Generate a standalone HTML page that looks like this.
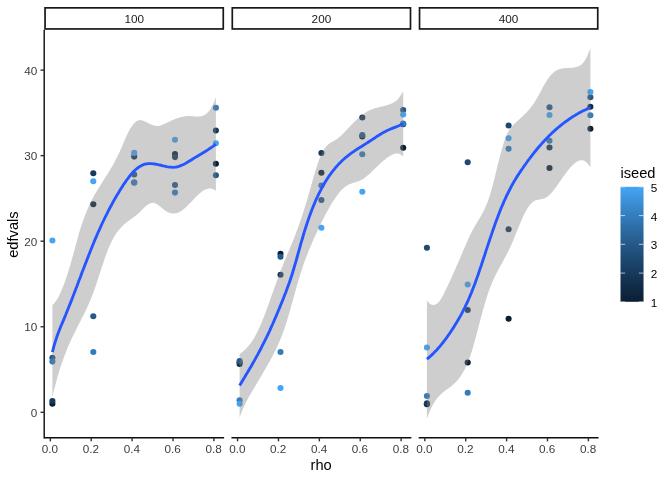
<!DOCTYPE html>
<html><head><meta charset="utf-8"><title>edfvals vs rho</title>
<style>html,body{margin:0;padding:0;background:#fff;}svg{display:block;}</style></head>
<body>
<svg width="672" height="480" viewBox="0 0 672 480" font-family="'Liberation Sans', Arial, Helvetica, sans-serif">
<rect width="672" height="480" fill="#fff"/>
<g><circle cx="52.4" cy="403.7" r="3.05" fill="#0B1E33"/><circle cx="52.4" cy="401.0" r="3.05" fill="#17395B"/><circle cx="52.4" cy="357.8" r="3.05" fill="#255989"/><circle cx="52.4" cy="361.6" r="3.05" fill="#347DBC"/><circle cx="52.4" cy="240.5" r="3.05" fill="#45A5F5"/><circle cx="93.3" cy="204.2" r="3.05" fill="#0B1E33"/><circle cx="93.3" cy="173.3" r="3.05" fill="#17395B"/><circle cx="93.3" cy="316.3" r="3.05" fill="#255989"/><circle cx="93.3" cy="352.0" r="3.05" fill="#347DBC"/><circle cx="93.3" cy="181.2" r="3.05" fill="#45A5F5"/><circle cx="134.2" cy="182.5" r="3.05" fill="#0B1E33"/><circle cx="134.2" cy="156.6" r="3.05" fill="#17395B"/><circle cx="134.2" cy="174.5" r="3.05" fill="#255989"/><circle cx="134.2" cy="182.5" r="3.05" fill="#347DBC"/><circle cx="134.2" cy="152.9" r="3.05" fill="#45A5F5"/><circle cx="175.0" cy="154.1" r="3.05" fill="#0B1E33"/><circle cx="175.0" cy="157.1" r="3.05" fill="#17395B"/><circle cx="175.0" cy="185.0" r="3.05" fill="#255989"/><circle cx="175.0" cy="192.6" r="3.05" fill="#347DBC"/><circle cx="175.0" cy="139.7" r="3.05" fill="#45A5F5"/><circle cx="215.9" cy="163.7" r="3.05" fill="#0B1E33"/><circle cx="215.9" cy="130.5" r="3.05" fill="#17395B"/><circle cx="215.9" cy="175.3" r="3.05" fill="#255989"/><circle cx="215.9" cy="107.8" r="3.05" fill="#347DBC"/><circle cx="215.9" cy="143.3" r="3.05" fill="#45A5F5"/></g>
<path d="M52.4 304.9L54.0 303.5L55.7 301.5L57.3 299.0L59.0 296.0L60.6 292.5L62.3 288.6L63.9 284.4L65.6 279.7L67.2 274.8L68.9 269.5L70.6 263.9L72.2 258.1L73.9 252.0L75.5 246.0L77.2 239.9L78.8 234.1L80.5 228.6L82.1 223.5L83.8 218.7L85.4 214.3L87.1 210.2L88.7 206.4L90.4 202.9L92.0 199.6L93.7 196.5L95.3 193.5L97.0 190.7L98.6 188.0L100.3 185.4L101.9 182.8L103.6 180.2L105.2 177.6L106.9 175.0L108.5 172.4L110.2 169.6L111.9 166.8L113.5 163.9L115.2 160.8L116.8 157.6L118.5 154.2L120.1 150.7L121.8 146.9L123.4 143.0L125.1 139.2L126.7 135.5L128.4 132.1L130.0 129.0L131.7 126.4L133.3 124.2L135.0 122.4L136.6 121.1L138.3 120.4L139.9 120.1L141.6 120.3L143.2 120.7L144.9 121.4L146.5 122.2L148.2 123.1L149.8 123.9L151.5 124.6L153.2 125.3L154.8 125.8L156.5 126.1L158.1 126.1L159.8 125.8L161.4 125.2L163.1 124.5L164.7 123.8L166.4 123.0L168.0 122.2L169.7 121.4L171.3 120.6L173.0 119.9L174.6 119.2L176.3 118.6L177.9 118.0L179.6 117.5L181.2 117.0L182.9 116.7L184.5 116.4L186.2 116.1L187.8 116.0L189.5 116.0L191.2 116.1L192.8 116.2L194.5 116.4L196.1 116.5L197.8 116.6L199.4 116.6L201.1 116.3L202.7 115.8L204.4 115.1L206.0 114.0L207.7 112.6L209.3 110.7L211.0 108.2L212.6 105.2L214.3 101.5L215.9 97.3L215.9 190.8L214.3 189.8L212.6 189.0L211.0 188.6L209.3 188.5L207.7 188.8L206.0 189.3L204.4 190.1L202.7 191.1L201.1 192.3L199.4 193.7L197.8 195.2L196.1 196.8L194.5 198.5L192.8 200.2L191.2 201.9L189.5 203.6L187.8 205.3L186.2 206.9L184.5 208.4L182.9 209.7L181.2 210.9L179.6 211.9L177.9 212.7L176.3 213.2L174.6 213.5L173.0 213.5L171.3 213.3L169.7 212.9L168.0 212.2L166.4 211.3L164.7 210.2L163.1 208.9L161.4 207.6L159.8 206.2L158.1 204.9L156.5 203.9L154.8 203.1L153.2 202.8L151.5 202.9L149.8 203.5L148.2 204.4L146.5 205.6L144.9 207.0L143.2 208.6L141.6 210.3L139.9 211.9L138.3 213.5L136.6 214.9L135.0 216.2L133.3 217.5L131.7 218.7L130.0 219.9L128.4 221.1L126.7 222.3L125.1 223.6L123.4 225.1L121.8 226.7L120.1 228.4L118.5 230.4L116.8 232.6L115.2 235.0L113.5 237.8L111.9 240.9L110.2 244.4L108.5 248.2L106.9 252.5L105.2 257.0L103.6 261.9L101.9 266.9L100.3 271.9L98.6 277.0L97.0 282.1L95.3 287.0L93.7 291.7L92.0 296.1L90.4 300.2L88.7 304.0L87.1 307.7L85.4 311.2L83.8 314.6L82.1 317.8L80.5 321.1L78.8 324.3L77.2 327.5L75.5 330.8L73.9 334.1L72.2 337.5L70.6 341.1L68.9 344.8L67.2 348.7L65.6 352.9L63.9 357.2L62.3 361.9L60.6 366.8L59.0 372.1L57.3 377.7L55.7 383.8L54.0 390.2L52.4 397.1Z" fill="#828282" fill-opacity="0.39"/>
<path d="M52.4 352.2L54.0 345.9L55.7 340.4L57.3 335.5L59.0 331.1L60.6 326.9L62.3 323.0L63.9 319.1L65.6 315.1L67.2 311.0L68.9 306.8L70.6 302.6L72.2 298.4L73.9 294.1L75.5 289.7L77.2 285.4L78.8 281.0L80.5 276.7L82.1 272.3L83.8 268.0L85.4 263.7L87.1 259.4L88.7 255.2L90.4 251.0L92.0 246.9L93.7 242.8L95.3 238.9L97.0 235.0L98.6 231.3L100.3 227.6L101.9 224.0L103.6 220.5L105.2 217.1L106.9 213.8L108.5 210.5L110.2 207.3L111.9 204.3L113.5 201.2L115.2 198.3L116.8 195.5L118.5 192.7L120.1 190.0L121.8 187.4L123.4 184.8L125.1 182.4L126.7 180.0L128.4 177.8L130.0 175.7L131.7 173.7L133.3 171.9L135.0 170.3L136.6 168.8L138.3 167.5L139.9 166.4L141.6 165.5L143.2 164.7L144.9 164.2L146.5 163.9L148.2 163.7L149.8 163.6L151.5 163.6L153.2 163.8L154.8 164.0L156.5 164.3L158.1 164.7L159.8 165.0L161.4 165.4L163.1 165.9L164.7 166.2L166.4 166.6L168.0 166.9L169.7 167.1L171.3 167.2L173.0 167.3L174.6 167.2L176.3 167.0L177.9 166.6L179.6 166.1L181.2 165.4L182.9 164.7L184.5 163.9L186.2 163.0L187.8 162.0L189.5 161.0L191.2 160.0L192.8 159.0L194.5 157.9L196.1 156.9L197.8 155.9L199.4 155.0L201.1 154.0L202.7 153.0L204.4 152.0L206.0 151.0L207.7 149.9L209.3 148.8L211.0 147.7L212.6 146.6L214.3 145.4L215.9 144.2" fill="none" stroke="#2555FF" stroke-width="2.85" stroke-linejoin="round"/>
<g><circle cx="239.6" cy="364.0" r="3.05" fill="#0B1E33"/><circle cx="239.6" cy="362.5" r="3.05" fill="#17395B"/><circle cx="239.6" cy="361.0" r="3.05" fill="#255989"/><circle cx="239.6" cy="400.3" r="3.05" fill="#347DBC"/><circle cx="239.6" cy="403.7" r="3.05" fill="#45A5F5"/><circle cx="280.5" cy="253.7" r="3.05" fill="#0B1E33"/><circle cx="280.5" cy="274.7" r="3.05" fill="#17395B"/><circle cx="280.5" cy="256.7" r="3.05" fill="#255989"/><circle cx="280.5" cy="352.0" r="3.05" fill="#347DBC"/><circle cx="280.5" cy="388.0" r="3.05" fill="#45A5F5"/><circle cx="321.4" cy="172.8" r="3.05" fill="#0B1E33"/><circle cx="321.4" cy="153.0" r="3.05" fill="#17395B"/><circle cx="321.4" cy="200.0" r="3.05" fill="#255989"/><circle cx="321.4" cy="185.5" r="3.05" fill="#347DBC"/><circle cx="321.4" cy="227.7" r="3.05" fill="#45A5F5"/><circle cx="362.3" cy="136.5" r="3.05" fill="#0B1E33"/><circle cx="362.3" cy="117.5" r="3.05" fill="#17395B"/><circle cx="362.3" cy="135.0" r="3.05" fill="#255989"/><circle cx="362.3" cy="154.2" r="3.05" fill="#347DBC"/><circle cx="362.3" cy="191.7" r="3.05" fill="#45A5F5"/><circle cx="403.2" cy="147.8" r="3.05" fill="#0B1E33"/><circle cx="403.2" cy="124.2" r="3.05" fill="#17395B"/><circle cx="403.2" cy="110.0" r="3.05" fill="#255989"/><circle cx="403.2" cy="123.5" r="3.05" fill="#347DBC"/><circle cx="403.2" cy="114.5" r="3.05" fill="#45A5F5"/></g>
<path d="M239.6 354.1L241.3 352.8L242.9 351.5L244.6 350.0L246.2 348.4L247.9 346.6L249.5 344.7L251.2 342.5L252.8 340.1L254.5 337.4L256.1 334.3L257.8 331.0L259.4 327.4L261.1 323.7L262.7 319.6L264.4 315.4L266.1 311.1L267.7 306.6L269.4 302.0L271.0 297.3L272.7 292.6L274.3 287.9L276.0 283.3L277.6 278.7L279.3 274.3L280.9 270.0L282.6 265.9L284.2 261.8L285.9 257.8L287.5 253.9L289.2 249.9L290.8 246.0L292.5 242.0L294.1 237.9L295.8 233.6L297.4 229.2L299.1 224.7L300.7 219.9L302.4 214.9L304.0 209.7L305.7 204.4L307.4 198.9L309.0 193.2L310.7 187.4L312.3 181.6L314.0 175.8L315.6 170.3L317.3 165.1L318.9 160.3L320.6 156.1L322.2 152.5L323.9 149.6L325.5 147.3L327.2 145.4L328.8 143.9L330.5 142.8L332.1 141.8L333.8 140.9L335.4 139.9L337.1 138.9L338.7 137.6L340.4 136.2L342.0 134.7L343.7 133.1L345.3 131.3L347.0 129.6L348.7 127.8L350.3 126.1L352.0 124.3L353.6 122.6L355.3 121.0L356.9 119.4L358.6 117.9L360.2 116.5L361.9 115.2L363.5 113.9L365.2 112.8L366.8 111.7L368.5 110.8L370.1 110.0L371.8 109.4L373.4 108.8L375.1 108.3L376.7 107.8L378.4 107.4L380.0 107.0L381.7 106.6L383.3 106.2L385.0 105.8L386.7 105.3L388.3 104.8L390.0 104.2L391.6 103.5L393.3 102.7L394.9 101.7L396.6 100.4L398.2 98.7L399.9 96.5L401.5 93.9L403.2 91.3L403.2 156.7L401.5 155.3L399.9 154.1L398.2 153.5L396.6 153.4L394.9 153.6L393.3 154.2L391.6 154.9L390.0 155.9L388.3 156.9L386.7 158.1L385.0 159.4L383.3 160.8L381.7 162.2L380.0 163.8L378.4 165.3L376.7 166.9L375.1 168.5L373.4 170.1L371.8 171.7L370.1 173.2L368.5 174.7L366.8 176.1L365.2 177.4L363.5 178.7L361.9 179.7L360.2 180.6L358.6 181.3L356.9 181.8L355.3 182.3L353.6 182.8L352.0 183.3L350.3 183.9L348.7 184.6L347.0 185.5L345.3 186.7L343.7 188.0L342.0 189.5L340.4 191.3L338.7 193.3L337.1 195.4L335.4 197.7L333.8 200.2L332.1 202.8L330.5 205.5L328.8 208.4L327.2 211.4L325.5 214.5L323.9 217.7L322.2 221.0L320.6 224.4L318.9 227.8L317.3 231.3L315.6 234.9L314.0 238.5L312.3 242.2L310.7 246.1L309.0 250.0L307.4 254.2L305.7 258.5L304.0 263.1L302.4 267.9L300.7 273.0L299.1 278.3L297.4 284.0L295.8 289.8L294.1 295.7L292.5 301.7L290.8 307.6L289.2 313.4L287.5 319.0L285.9 324.3L284.2 329.2L282.6 333.8L280.9 338.1L279.3 342.1L277.6 345.8L276.0 349.3L274.3 352.6L272.7 355.8L271.0 358.9L269.4 361.9L267.7 364.8L266.1 367.7L264.4 370.6L262.7 373.4L261.1 376.3L259.4 379.1L257.8 381.8L256.1 384.6L254.5 387.4L252.8 390.2L251.2 392.9L249.5 395.8L247.9 398.8L246.2 401.9L244.6 405.3L242.9 409.1L241.3 413.1L239.6 417.6Z" fill="#828282" fill-opacity="0.39"/>
<path d="M239.6 385.6L241.3 382.8L242.9 380.1L244.6 377.3L246.2 374.5L247.9 371.8L249.5 369.0L251.2 366.2L252.8 363.3L254.5 360.4L256.1 357.4L257.8 354.4L259.4 351.3L261.1 348.2L262.7 344.9L264.4 341.6L266.1 338.2L267.7 334.8L269.4 331.3L271.0 327.7L272.7 324.0L274.3 320.2L276.0 316.4L277.6 312.5L279.3 308.5L280.9 304.5L282.6 300.4L284.2 296.2L285.9 291.9L287.5 287.5L289.2 283.0L290.8 278.2L292.5 273.0L294.1 267.5L295.8 261.8L297.4 256.0L299.1 250.1L300.7 244.2L302.4 238.5L304.0 232.9L305.7 227.5L307.4 222.4L309.0 217.6L310.7 213.0L312.3 208.7L314.0 204.6L315.6 200.7L317.3 197.0L318.9 193.6L320.6 190.3L322.2 187.2L323.9 184.3L325.5 181.5L327.2 178.9L328.8 176.4L330.5 174.1L332.1 171.9L333.8 169.8L335.4 167.8L337.1 165.9L338.7 164.1L340.4 162.4L342.0 160.8L343.7 159.3L345.3 157.9L347.0 156.5L348.7 155.2L350.3 153.9L352.0 152.7L353.6 151.6L355.3 150.4L356.9 149.3L358.6 148.3L360.2 147.2L361.9 146.2L363.5 145.2L365.2 144.1L366.8 143.1L368.5 142.0L370.1 141.0L371.8 139.9L373.4 138.8L375.1 137.7L376.7 136.6L378.4 135.6L380.0 134.5L381.7 133.5L383.3 132.6L385.0 131.7L386.7 130.8L388.3 130.0L390.0 129.3L391.6 128.6L393.3 127.9L394.9 127.3L396.6 126.7L398.2 126.0L399.9 125.3L401.5 124.5L403.2 123.8" fill="none" stroke="#2555FF" stroke-width="2.85" stroke-linejoin="round"/>
<g><circle cx="426.9" cy="404.2" r="3.05" fill="#0B1E33"/><circle cx="426.9" cy="403.3" r="3.05" fill="#17395B"/><circle cx="426.9" cy="247.8" r="3.05" fill="#1D4972"/><circle cx="426.9" cy="396.0" r="3.05" fill="#347DBC"/><circle cx="426.9" cy="347.5" r="3.05" fill="#45A5F5"/><circle cx="467.7" cy="362.5" r="3.05" fill="#0B1E33"/><circle cx="467.7" cy="310.0" r="3.05" fill="#17395B"/><circle cx="467.7" cy="162.2" r="3.05" fill="#1D4972"/><circle cx="467.7" cy="392.8" r="3.05" fill="#347DBC"/><circle cx="467.7" cy="284.5" r="3.05" fill="#45A5F5"/><circle cx="508.6" cy="318.7" r="3.05" fill="#0B1E33"/><circle cx="508.6" cy="229.2" r="3.05" fill="#17395B"/><circle cx="508.6" cy="125.5" r="3.05" fill="#1D4972"/><circle cx="508.6" cy="148.8" r="3.05" fill="#347DBC"/><circle cx="508.6" cy="138.3" r="3.05" fill="#45A5F5"/><circle cx="549.5" cy="168.0" r="3.05" fill="#0B1E33"/><circle cx="549.5" cy="147.5" r="3.05" fill="#17395B"/><circle cx="549.5" cy="107.2" r="3.05" fill="#255989"/><circle cx="549.5" cy="140.8" r="3.05" fill="#347DBC"/><circle cx="549.5" cy="115.0" r="3.05" fill="#45A5F5"/><circle cx="590.4" cy="128.8" r="3.05" fill="#0B1E33"/><circle cx="590.4" cy="106.7" r="3.05" fill="#112B46"/><circle cx="590.4" cy="97.2" r="3.05" fill="#255989"/><circle cx="590.4" cy="115.3" r="3.05" fill="#347DBC"/><circle cx="590.4" cy="92.0" r="3.05" fill="#45A5F5"/></g>
<path d="M426.9 300.6L428.5 302.5L430.2 303.9L431.8 304.7L433.5 305.0L435.1 304.7L436.8 303.8L438.4 302.4L440.1 300.3L441.7 297.7L443.4 294.7L445.0 291.3L446.7 287.9L448.3 284.4L450.0 280.9L451.6 277.3L453.3 273.6L454.9 269.9L456.6 266.1L458.2 262.3L459.9 258.4L461.6 254.5L463.2 250.6L464.9 246.8L466.5 243.0L468.2 239.3L469.8 235.8L471.5 232.4L473.1 229.2L474.8 226.2L476.4 223.4L478.1 220.7L479.7 218.0L481.4 215.2L483.0 212.2L484.7 208.9L486.3 205.1L488.0 200.9L489.6 196.0L491.3 190.5L492.9 184.4L494.6 178.0L496.2 171.3L497.9 164.6L499.5 157.9L501.2 151.4L502.9 145.5L504.5 140.4L506.2 136.0L507.8 132.4L509.5 129.6L511.1 127.4L512.8 125.5L514.4 123.8L516.1 122.2L517.7 120.7L519.4 119.2L521.0 117.7L522.7 116.2L524.3 114.6L526.0 112.9L527.6 111.2L529.3 109.3L530.9 107.3L532.6 105.1L534.2 102.7L535.9 100.0L537.5 97.2L539.2 94.2L540.9 91.2L542.5 88.1L544.2 85.1L545.8 82.3L547.5 79.6L549.1 77.2L550.8 75.1L552.4 73.4L554.1 72.0L555.7 70.8L557.4 70.0L559.0 69.3L560.7 68.8L562.3 68.5L564.0 68.3L565.6 68.1L567.3 68.1L568.9 68.0L570.6 67.9L572.2 67.8L573.9 67.6L575.5 67.3L577.2 66.8L578.8 66.2L580.5 65.2L582.2 63.8L583.8 62.0L585.5 59.5L587.1 56.3L588.8 52.2L590.4 48.3L590.4 167.2L588.8 165.0L587.1 162.9L585.5 161.4L583.8 160.5L582.2 160.2L580.5 160.2L578.8 160.7L577.2 161.4L575.5 162.5L573.9 163.9L572.2 165.4L570.6 167.2L568.9 169.2L567.3 171.3L565.6 173.5L564.0 175.8L562.3 178.1L560.7 180.5L559.0 182.9L557.4 185.2L555.7 187.5L554.1 189.7L552.4 191.7L550.8 193.5L549.1 195.2L547.5 196.6L545.8 197.7L544.2 198.5L542.5 199.0L540.9 199.3L539.2 199.5L537.5 199.9L535.9 200.3L534.2 201.1L532.6 202.2L530.9 203.8L529.3 205.8L527.6 208.2L526.0 210.9L524.3 214.1L522.7 217.5L521.0 221.2L519.4 225.2L517.7 229.2L516.1 233.3L514.4 237.4L512.8 241.4L511.1 245.3L509.5 248.8L507.8 252.2L506.2 255.4L504.5 258.5L502.9 261.4L501.2 264.4L499.5 267.4L497.9 270.5L496.2 273.7L494.6 277.1L492.9 280.8L491.3 284.7L489.6 289.0L488.0 293.6L486.3 298.7L484.7 304.2L483.0 309.9L481.4 315.9L479.7 322.2L478.1 328.5L476.4 334.9L474.8 341.1L473.1 347.0L471.5 352.3L469.8 357.2L468.2 361.5L466.5 365.4L464.9 368.9L463.2 372.0L461.6 374.8L459.9 377.2L458.2 379.4L456.6 381.3L454.9 383.0L453.3 384.5L451.6 385.9L450.0 387.2L448.3 388.4L446.7 389.6L445.0 390.8L443.4 392.1L441.7 393.4L440.1 395.0L438.4 396.7L436.8 398.7L435.1 401.0L433.5 403.6L431.8 406.7L430.2 410.2L428.5 414.2L426.9 418.8Z" fill="#828282" fill-opacity="0.39"/>
<path d="M426.9 359.1L428.5 357.8L430.2 356.4L431.8 354.9L433.5 353.3L435.1 351.6L436.8 349.9L438.4 348.0L440.1 346.1L441.7 344.1L443.4 342.0L445.0 339.9L446.7 337.6L448.3 335.3L450.0 332.9L451.6 330.5L453.3 327.9L454.9 325.3L456.6 322.6L458.2 319.8L459.9 316.9L461.6 313.9L463.2 310.7L464.9 307.4L466.5 303.9L468.2 300.3L469.8 296.5L471.5 292.5L473.1 288.3L474.8 284.0L476.4 279.4L478.1 274.7L479.7 269.9L481.4 265.0L483.0 260.0L484.7 255.0L486.3 249.9L488.0 244.9L489.6 240.0L491.3 235.1L492.9 230.2L494.6 225.5L496.2 220.9L497.9 216.4L499.5 212.2L501.2 208.0L502.9 204.1L504.5 200.3L506.2 196.7L507.8 193.3L509.5 190.0L511.1 186.8L512.8 183.8L514.4 180.9L516.1 178.2L517.7 175.6L519.4 173.0L521.0 170.6L522.7 168.2L524.3 165.8L526.0 163.5L527.6 161.2L529.3 159.0L530.9 156.8L532.6 154.6L534.2 152.5L535.9 150.5L537.5 148.5L539.2 146.5L540.9 144.6L542.5 142.8L544.2 141.0L545.8 139.2L547.5 137.5L549.1 135.8L550.8 134.2L552.4 132.6L554.1 131.1L555.7 129.6L557.4 128.2L559.0 126.8L560.7 125.5L562.3 124.1L564.0 122.9L565.6 121.7L567.3 120.5L568.9 119.3L570.6 118.2L572.2 117.1L573.9 116.1L575.5 115.1L577.2 114.1L578.8 113.1L580.5 112.2L582.2 111.3L583.8 110.5L585.5 109.7L587.1 108.9L588.8 108.1L590.4 107.5" fill="none" stroke="#2555FF" stroke-width="2.85" stroke-linejoin="round"/>
<rect x="45.05" y="7.85" width="178.21" height="21.10" fill="#fff" stroke="#181818" stroke-width="1.7"/>
<text x="134.2" y="22.6" font-size="11.73" text-anchor="middle" fill="#1a1a1a">100</text>
<line x1="44.20" y1="437.70" x2="224.11" y2="437.70" stroke="#0d0d0d" stroke-width="1.42"/>
<line x1="50.33" y1="437.70" x2="50.33" y2="441.37" stroke="#333" stroke-width="1.42"/>
<text x="50.0" y="453" font-size="11.73" text-anchor="middle" fill="#3D3D3D">0.0</text>
<line x1="91.22" y1="437.70" x2="91.22" y2="441.37" stroke="#333" stroke-width="1.42"/>
<text x="90.9" y="453" font-size="11.73" text-anchor="middle" fill="#3D3D3D">0.2</text>
<line x1="132.11" y1="437.70" x2="132.11" y2="441.37" stroke="#333" stroke-width="1.42"/>
<text x="131.8" y="453" font-size="11.73" text-anchor="middle" fill="#3D3D3D">0.4</text>
<line x1="173.00" y1="437.70" x2="173.00" y2="441.37" stroke="#333" stroke-width="1.42"/>
<text x="172.7" y="453" font-size="11.73" text-anchor="middle" fill="#3D3D3D">0.6</text>
<line x1="213.89" y1="437.70" x2="213.89" y2="441.37" stroke="#333" stroke-width="1.42"/>
<text x="213.6" y="453" font-size="11.73" text-anchor="middle" fill="#3D3D3D">0.8</text>
<rect x="232.29" y="7.85" width="178.21" height="21.10" fill="#fff" stroke="#181818" stroke-width="1.7"/>
<text x="321.4" y="22.6" font-size="11.73" text-anchor="middle" fill="#1a1a1a">200</text>
<line x1="231.44" y1="437.70" x2="411.35" y2="437.70" stroke="#0d0d0d" stroke-width="1.42"/>
<line x1="237.57" y1="437.70" x2="237.57" y2="441.37" stroke="#333" stroke-width="1.42"/>
<text x="237.3" y="453" font-size="11.73" text-anchor="middle" fill="#3D3D3D">0.0</text>
<line x1="278.46" y1="437.70" x2="278.46" y2="441.37" stroke="#333" stroke-width="1.42"/>
<text x="278.2" y="453" font-size="11.73" text-anchor="middle" fill="#3D3D3D">0.2</text>
<line x1="319.35" y1="437.70" x2="319.35" y2="441.37" stroke="#333" stroke-width="1.42"/>
<text x="319.1" y="453" font-size="11.73" text-anchor="middle" fill="#3D3D3D">0.4</text>
<line x1="360.24" y1="437.70" x2="360.24" y2="441.37" stroke="#333" stroke-width="1.42"/>
<text x="359.9" y="453" font-size="11.73" text-anchor="middle" fill="#3D3D3D">0.6</text>
<line x1="401.13" y1="437.70" x2="401.13" y2="441.37" stroke="#333" stroke-width="1.42"/>
<text x="400.8" y="453" font-size="11.73" text-anchor="middle" fill="#3D3D3D">0.8</text>
<rect x="419.53" y="7.85" width="178.21" height="21.10" fill="#fff" stroke="#181818" stroke-width="1.7"/>
<text x="508.6" y="22.6" font-size="11.73" text-anchor="middle" fill="#1a1a1a">400</text>
<line x1="418.68" y1="437.70" x2="598.59" y2="437.70" stroke="#0d0d0d" stroke-width="1.42"/>
<line x1="424.81" y1="437.70" x2="424.81" y2="441.37" stroke="#333" stroke-width="1.42"/>
<text x="424.5" y="453" font-size="11.73" text-anchor="middle" fill="#3D3D3D">0.0</text>
<line x1="465.70" y1="437.70" x2="465.70" y2="441.37" stroke="#333" stroke-width="1.42"/>
<text x="465.4" y="453" font-size="11.73" text-anchor="middle" fill="#3D3D3D">0.2</text>
<line x1="506.59" y1="437.70" x2="506.59" y2="441.37" stroke="#333" stroke-width="1.42"/>
<text x="506.3" y="453" font-size="11.73" text-anchor="middle" fill="#3D3D3D">0.4</text>
<line x1="547.48" y1="437.70" x2="547.48" y2="441.37" stroke="#333" stroke-width="1.42"/>
<text x="547.2" y="453" font-size="11.73" text-anchor="middle" fill="#3D3D3D">0.6</text>
<line x1="588.37" y1="437.70" x2="588.37" y2="441.37" stroke="#333" stroke-width="1.42"/>
<text x="588.1" y="453" font-size="11.73" text-anchor="middle" fill="#3D3D3D">0.8</text>
<line x1="44.20" y1="29.80" x2="44.20" y2="438.41" stroke="#0d0d0d" stroke-width="1.42"/>
<line x1="40.53" y1="412.30" x2="44.20" y2="412.30" stroke="#333" stroke-width="1.42"/>
<text x="37.3" y="416.9" font-size="11.73" text-anchor="end" fill="#3D3D3D">0</text>
<line x1="40.53" y1="326.75" x2="44.20" y2="326.75" stroke="#333" stroke-width="1.42"/>
<text x="37.3" y="331.4" font-size="11.73" text-anchor="end" fill="#3D3D3D">10</text>
<line x1="40.53" y1="241.20" x2="44.20" y2="241.20" stroke="#333" stroke-width="1.42"/>
<text x="37.3" y="245.8" font-size="11.73" text-anchor="end" fill="#3D3D3D">20</text>
<line x1="40.53" y1="155.65" x2="44.20" y2="155.65" stroke="#333" stroke-width="1.42"/>
<text x="37.3" y="160.3" font-size="11.73" text-anchor="end" fill="#3D3D3D">30</text>
<line x1="40.53" y1="70.10" x2="44.20" y2="70.10" stroke="#333" stroke-width="1.42"/>
<text x="37.3" y="74.7" font-size="11.73" text-anchor="end" fill="#3D3D3D">40</text>
<text x="321.1" y="469.8" font-size="14.67" text-anchor="middle" fill="#000">rho</text>
<text transform="translate(18.2 234.6) rotate(-90)" font-size="14.67" text-anchor="middle" fill="#000">edfvals</text>
<text x="620.4" y="177.8" font-size="14.67" fill="#000">iseed</text>
<defs><linearGradient id="cb" x1="0" y1="1" x2="0" y2="0"><stop offset="0.000" stop-color="#0B1E33"/><stop offset="0.125" stop-color="#112B46"/><stop offset="0.250" stop-color="#17395B"/><stop offset="0.375" stop-color="#1D4972"/><stop offset="0.500" stop-color="#255989"/><stop offset="0.625" stop-color="#2C6AA2"/><stop offset="0.750" stop-color="#347DBC"/><stop offset="0.875" stop-color="#3D91D8"/><stop offset="1.000" stop-color="#45A5F5"/></linearGradient></defs>
<rect x="620.5" y="186.8" width="23.04" height="115.0" fill="url(#cb)"/>
<line x1="620.5" x2="625.1" y1="301.6" y2="301.6" stroke="#fff" stroke-width="0.75" stroke-opacity="0.55"/>
<line x1="638.9" x2="643.54" y1="301.6" y2="301.6" stroke="#fff" stroke-width="0.75" stroke-opacity="0.55"/>
<text x="650.8" y="306.8" font-size="11.73" fill="#000">1</text>
<line x1="620.5" x2="625.1" y1="273.1" y2="273.1" stroke="#fff" stroke-width="0.75" stroke-opacity="0.90"/>
<line x1="638.9" x2="643.54" y1="273.1" y2="273.1" stroke="#fff" stroke-width="0.75" stroke-opacity="0.90"/>
<text x="650.8" y="278.1" font-size="11.73" fill="#000">2</text>
<line x1="620.5" x2="625.1" y1="244.3" y2="244.3" stroke="#fff" stroke-width="0.75" stroke-opacity="0.90"/>
<line x1="638.9" x2="643.54" y1="244.3" y2="244.3" stroke="#fff" stroke-width="0.75" stroke-opacity="0.90"/>
<text x="650.8" y="249.3" font-size="11.73" fill="#000">3</text>
<line x1="620.5" x2="625.1" y1="215.6" y2="215.6" stroke="#fff" stroke-width="0.75" stroke-opacity="0.90"/>
<line x1="638.9" x2="643.54" y1="215.6" y2="215.6" stroke="#fff" stroke-width="0.75" stroke-opacity="0.90"/>
<text x="650.8" y="220.6" font-size="11.73" fill="#000">4</text>
<line x1="620.5" x2="625.1" y1="187.0" y2="187.0" stroke="#fff" stroke-width="0.75" stroke-opacity="0.55"/>
<line x1="638.9" x2="643.54" y1="187.0" y2="187.0" stroke="#fff" stroke-width="0.75" stroke-opacity="0.55"/>
<text x="650.8" y="191.8" font-size="11.73" fill="#000">5</text>
</svg>
</body></html>
